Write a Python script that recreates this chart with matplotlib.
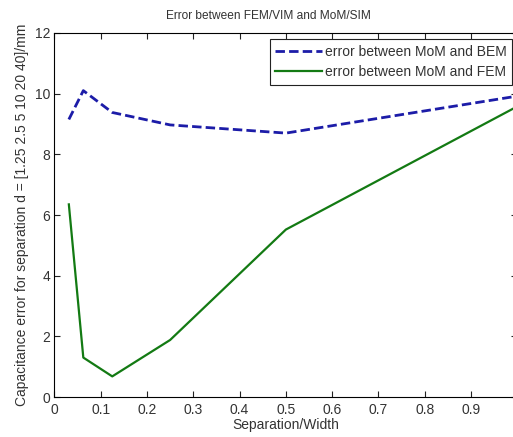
import matplotlib
matplotlib.use("Agg")
import matplotlib.pyplot as plt

# separation d = [1.25 2.5 5 10 20 40] mm over width 40 mm
ratio = [0.03125, 0.0625, 0.125, 0.25, 0.5, 1.0]
err_bem = [9.15, 10.1, 9.38, 8.97, 8.7, 9.92]
err_fem = [6.35, 1.3, 0.68, 1.88, 5.52, 9.58]

plt.rcParams["font.family"] = ["Liberation Sans", "DejaVu Sans"]
plt.rcParams["font.size"] = 10
txt = "#333333"

fig = plt.figure(figsize=(5.13, 4.37), dpi=100)
ax = fig.add_axes([0.106, 0.0915, 0.9025, 0.833])

ax.plot(ratio, err_bem, color="#1c1ca8", lw=2.0, ls=(0, (3.4, 1.5)),
        label="error between MoM and BEM")
ax.plot(ratio, err_fem, color="#137a13", lw=1.6,
        label="error between MoM and FEM")

ax.set_xlim(0, 1)
ax.set_ylim(0, 12)
ax.set_xticks([0, 0.1, 0.2, 0.3, 0.4, 0.5, 0.6, 0.7, 0.8, 0.9])
ax.set_xticklabels(["0", "0.1", "0.2", "0.3", "0.4", "0.5", "0.6", "0.7", "0.8", "0.9"])
ax.set_yticks([0, 2, 4, 6, 8, 10, 12])
ax.tick_params(direction="in", top=True, right=True, length=4, width=0.8,
               color="#222222", labelcolor=txt, labelsize=10)
ax.tick_params(axis="x", pad=4)
ax.tick_params(axis="y", pad=3)
for s in ax.spines.values():
    s.set_linewidth(0.8)

ax.set_title("Error between FEM/VIM and MoM/SIM", fontsize=8.6, pad=10, color=txt, x=0.462)
ax.set_xlabel("Separation/Width", labelpad=1, color=txt)
ax.set_ylabel("Capacitance error for separation d = [1.25 2.5 5 10 20 40]/mm",
              fontsize=10, labelpad=4, color=txt)

leg = ax.legend(loc="upper right", bbox_to_anchor=(0.9955, 0.99), fontsize=10,
                handlelength=3.4, handletextpad=0.2, borderpad=0.4, labelspacing=0.45,
                borderaxespad=0.2, fancybox=False, framealpha=1, edgecolor="#222222")
leg.get_frame().set_linewidth(0.8)
for t in leg.get_texts():
    t.set_color(txt)

fig.savefig("out.png", dpi=100)
